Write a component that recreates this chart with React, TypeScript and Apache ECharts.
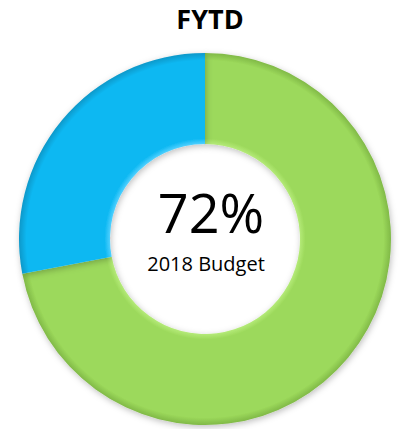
import React, { useEffect, useRef } from "react";
import * as echarts from "echarts";

const titleText = "FYTD";
const categories = ["2018 Budget (spent)", "Remaining"];
const values = [72, 28];
const centerValue = "72%";
const centerLabel = "2018 Budget";

const CX = 205;
const CY = 239;
const R_IN = 95;
const R_OUT = 186;

function bevel(light: string, main: string, dark: string) {
  const a = R_IN / R_OUT;
  return {
    type: "radial",
    x: CX,
    y: CY,
    r: R_OUT,
    global: true,
    colorStops: [
      { offset: 0, color: light },
      { offset: a, color: light },
      { offset: a + 0.03, color: main },
      { offset: 0.96, color: main },
      { offset: 1, color: dark },
    ],
  };
}

const palette = [
  bevel("#b4ea78", "#9cd95b", "#80b947"),
  bevel("#4fd0ff", "#0db8f2", "#0a98c9"),
];

export default function App() {
  const ref = useRef<HTMLDivElement>(null);
  useEffect(() => {
    document.body.style.margin = "0";
    const chart = echarts.init(ref.current!, null, { renderer: "svg" });
    chart.setOption({
      animation: false,
      backgroundColor: "#ffffff",
      title: {
        text: titleText,
        left: 205,
        top: 0,
        textAlign: "center",
        textStyle: {
          fontFamily: "Open Sans",
          fontWeight: "bold",
          fontSize: 27,
          color: "#000000",
        },
      },
      series: [
        {
          type: "pie",
          center: [CX, CY],
          radius: [R_IN, R_OUT],
          startAngle: 90,
          clockwise: true,
          label: { show: false },
          labelLine: { show: false },
          silent: true,
          itemStyle: {
            shadowBlur: 6,
            shadowColor: "rgba(0,0,0,0.25)",
            shadowOffsetX: 1,
            shadowOffsetY: 2,
          },
          data: categories.map((name, i) => ({
            name,
            value: values[i],
            itemStyle: { color: palette[i] },
          })),
        },
      ],
      graphic: [
        {
          type: "text",
          x: 211,
          y: 212,
          style: {
            text: centerValue,
            fontFamily: "Open Sans",
            fontSize: 54,
            fill: "#000000",
            align: "center",
            verticalAlign: "middle",
          },
        },
        {
          type: "text",
          x: 206,
          y: 263,
          style: {
            text: centerLabel,
            fontFamily: "Open Sans",
            fontSize: 20,
            fill: "#000000",
            align: "center",
            verticalAlign: "middle",
          },
        },
      ],
    });
    return () => chart.dispose();
  }, []);
  return <div ref={ref} style={{ width: 401, height: 429 }} />;
}
